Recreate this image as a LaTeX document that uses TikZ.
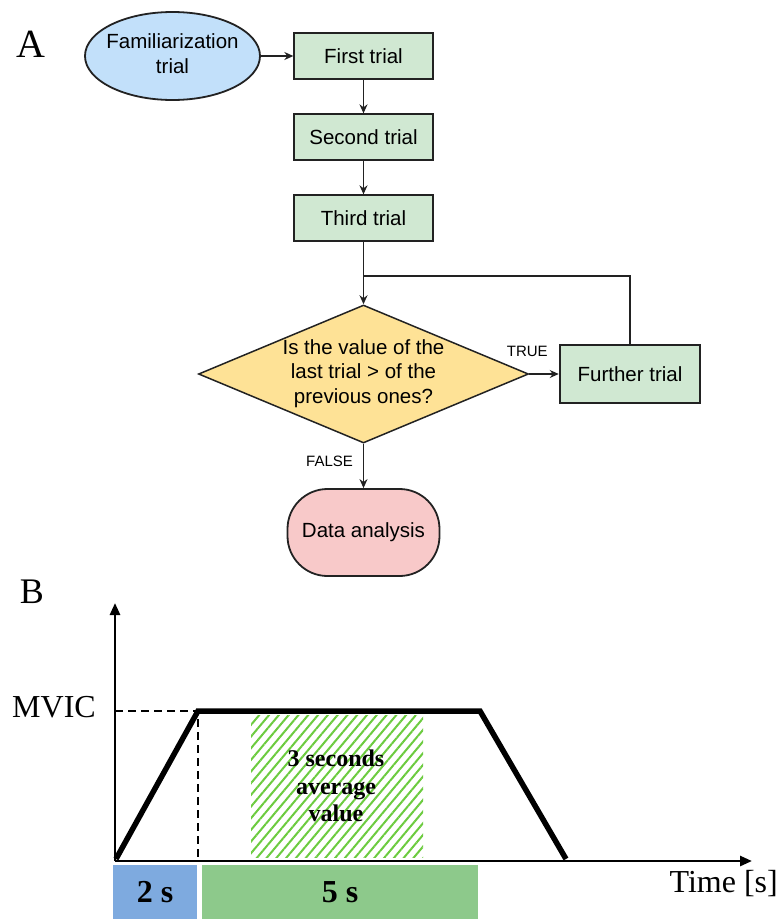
\documentclass[tikz,border=0pt]{standalone}
\usepackage{fontspec}
\setmainfont{Liberation Serif}
\newfontfamily\arialf{Liberation Sans}
\usetikzlibrary{shapes.geometric,arrows.meta,patterns.meta}
\definecolor{blueF}{HTML}{C2E0FA}
\definecolor{greenF}{HTML}{D0E8D2}
\definecolor{yellowF}{HTML}{FEE296}
\definecolor{pinkF}{HTML}{F8C9C9}
\definecolor{hatchG}{HTML}{6CCB3F}
\definecolor{boxBlue}{HTML}{7EAADF}
\definecolor{boxGreen}{HTML}{8DC98B}
\definecolor{strokeC}{HTML}{222222}
\tikzset{
  flowtext/.style={font=\arialf\fontsize{20.5}{24.7}\selectfont, text=black},
  trialbox/.style={flowtext, draw=strokeC, line width=1.3pt, fill=greenF, minimum width=139pt, minimum height=46pt, inner sep=0pt},
  flowarrow/.style={draw=strokeC, line width=1.3pt, -{Stealth[length=9pt,width=8pt]}},
  flowline/.style={draw=strokeC, line width=1.3pt},
  smalllabel/.style={font=\arialf\fontsize{15}{18}\selectfont, inner sep=0pt},
  axisline/.style={line width=2.6pt, -{Triangle[length=12pt,width=10pt]}},
  profile/.style={line width=5.5pt, line join=miter},
  guide/.style={line width=2.4pt, dash pattern=on 8pt off 5pt},
  bigserif/.style={font=\fontsize{32}{36}\selectfont, inner sep=0pt},
  boldserif/.style={font=\bfseries\fontsize{32}{36}\selectfont},
}
\begin{document}
\begin{tikzpicture}[x=1pt,y=-1pt]
\useasboundingbox (0,0) rectangle (780,919);

% ---------- Part A ----------
\node[font=\fontsize{40}{44}\selectfont, anchor=base, inner sep=0pt] (labA) at (31,57) {A};

\node[ellipse, draw=strokeC, line width=1.8pt, fill=blueF, minimum width=175pt, minimum height=88pt, inner sep=0pt, flowtext] (fam) at (172.5,56)
  {\makebox[0pt]{\begin{tabular}{@{}c@{}}Familiarization\\trial\end{tabular}}};

\node[trialbox] (first)  at (363.5,56)  {First trial};
\node[trialbox] (second) at (363.5,137) {Second trial};
\node[trialbox] (third)  at (363.5,218) {Third trial};

\node[diamond, draw=strokeC, line width=1.5pt, fill=yellowF, minimum width=330pt, minimum height=138pt, inner sep=0pt, flowtext] (dec) at (363.5,374)
  {\makebox[0pt]{\begin{tabular}{@{}c@{}}Is the value of the\\last trial > of the\\previous ones?\end{tabular}}};

\node[flowtext, draw=strokeC, line width=2.5pt, fill=greenF, minimum width=140pt, minimum height=58pt, inner sep=0pt] (further) at (630,374) {Further trial};

\node[flowtext, draw=strokeC, line width=1.8pt, fill=pinkF, rounded corners=40pt, minimum width=152pt, minimum height=87pt, inner sep=0pt] (analysis) at (363.5,532.5) {Data analysis};

\coordinate (join) at (363.5,276);

\draw[flowarrow] (fam.east) -- (first.west);
\draw[flowarrow] (first) -- (second);
\draw[flowarrow] (second) -- (third);
\draw[flowarrow] (third) -- (dec.north);
\draw[flowline] (further.north) |- (join);
\draw[flowarrow] (dec.east) -- (further.west)
  node[smalllabel, pos=0, anchor=south, xshift=-2pt, yshift=17pt] {TRUE};
\draw[flowarrow] (dec.south) -- (analysis.north)
  node[smalllabel, pos=0.4, left=10pt] {FALSE};

% ---------- Part B ----------
\node[font=\fontsize{36}{40}\selectfont, anchor=base, inner sep=0pt] (labB) at (32,603) {B};

\path[pattern={Lines[angle=50,distance=7.5pt,line width=2pt]}, pattern color=hatchG]
  (251,715) rectangle (423,857);
\node[font=\bfseries\fontsize{24}{27.5}\selectfont, align=center, inner sep=0pt] (avg) at (336,786)
  {3 seconds\\average\\value};

\coordinate (O) at (115,861);
\coordinate (ytip) at (115,603);
\coordinate (xtip) at (752,861);
\coordinate (p1) at (116,859);
\coordinate (p2) at (198,711);
\coordinate (p3) at (480,711);
\coordinate (p4) at (566,859);
\coordinate (mvicpt) at (115,711);
\coordinate (foot) at (198,861);

\draw[guide] (mvicpt) -- (p2) -- (foot);
\draw[profile] (p1) -- (p2) -- (p3) -- (p4);
\draw[axisline] (O) -- (ytip);
\draw[axisline] (O) -- (xtip);

\node[bigserif, anchor=base] (mvic) at (54,717) {MVIC};
\node[bigserif, anchor=base east] (time) at (778,892) {Time [s]};

\node[boldserif, fill=boxBlue, minimum width=84pt, minimum height=54pt, inner sep=0pt] (two) at (155,892) {2 s};
\node[boldserif, fill=boxGreen, minimum width=276pt, minimum height=54pt, inner sep=0pt] (five) at (340,892) {5 s};
\end{tikzpicture}
\end{document}
